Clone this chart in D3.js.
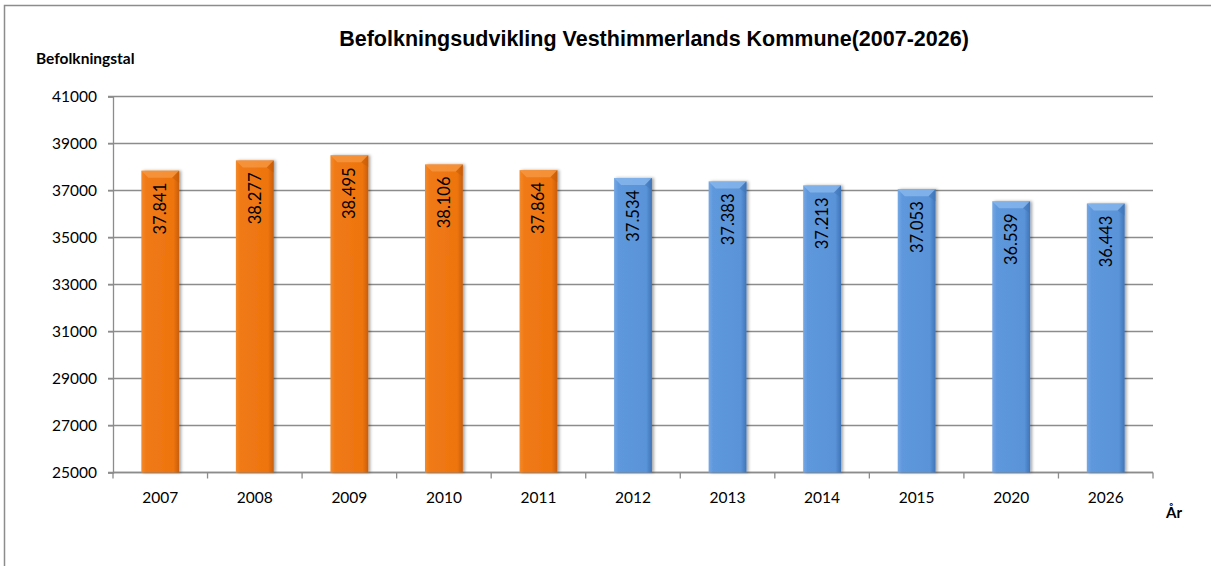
<!DOCTYPE html>
<meta charset="utf-8">
<style>
body { margin: 0; background: #fff; }
text { font-family: Lato, "Open Sans", sans-serif; }
</style>
<body>
<script src="https://cdn.jsdelivr.net/npm/d3@7"></script>
<script>
// data
var years = ["2007", "2008", "2009", "2010", "2011", "2012", "2013", "2014", "2015", "2020", "2026"];
var population = [37841, 38277, 38495, 38106, 37864, 37534, 37383, 37213, 37053, 36539, 36443];
var realized = ["2007", "2008", "2009", "2010", "2011"]; // orange, the rest are forecasts (blue)
var yTicks = [25000, 27000, 29000, 31000, 33000, 35000, 37000, 39000, 41000];

var W = 1211, H = 566;
var margin = {top: 96.5, right: 58, bottom: 93.5, left: 113};
var width = W - margin.left - margin.right,
    height = H - margin.top - margin.bottom;

var svg = d3.select("body").append("svg")
    .attr("width", W)
    .attr("height", H);

// outer chart border
svg.append("rect")
    .attr("x", 4.5).attr("y", 5.5)
    .attr("width", W + 20).attr("height", H + 20)
    .attr("fill", "none")
    .attr("stroke", "#8c8c8c")
    .attr("stroke-width", 1.5);

var defs = svg.append("defs");
function grad(id, stops) {
  var g = defs.append("linearGradient").attr("id", id)
      .attr("x1", "0%").attr("x2", "100%").attr("y1", "0%").attr("y2", "0%");
  stops.forEach(function(s) {
    g.append("stop").attr("offset", s[0]).attr("stop-color", s[1]);
  });
}
grad("gOrange", [["0%", "#f48a2c"], ["12%", "#f07a14"], ["85%", "#ee7410"], ["100%", "#c85e08"]]);
grad("gBlue", [["0%", "#75a8e6"], ["12%", "#5e98dc"], ["85%", "#5a93d8"], ["100%", "#3f74b8"]]);

var shadow = defs.append("filter").attr("id", "shadow")
    .attr("x", "-20%").attr("y", "-10%").attr("width", "150%").attr("height", "120%");
shadow.append("feDropShadow")
    .attr("dx", 2).attr("dy", 0).attr("stdDeviation", 1.5)
    .attr("flood-color", "#000").attr("flood-opacity", 0.35);

var g = svg.append("g")
    .attr("transform", "translate(" + margin.left + "," + margin.top + ")");

var x = d3.scaleBand().domain(years).range([0, width]).paddingInner(0.6).paddingOuter(0.3);
var y = d3.scaleLinear().domain([25000, 41000]).range([height, 0]);

// gridlines
g.append("g").selectAll("line")
    .data(yTicks)
  .enter().append("line")
    .attr("x1", -5).attr("x2", width)
    .attr("y1", function(d) { return y(d); })
    .attr("y2", function(d) { return y(d); })
    .attr("stroke", "#8c8c8c")
    .attr("stroke-width", 1.3);

// y axis
var yAxis = g.append("g")
    .call(d3.axisLeft(y).tickValues(yTicks).tickSize(5).tickPadding(11).tickFormat(d3.format("d")));
yAxis.select(".domain").attr("stroke", "#8c8c8c").attr("stroke-width", 1.3);
yAxis.selectAll(".tick line").attr("stroke", "#8c8c8c");
yAxis.selectAll("text").style("font-size", "15.5px").attr("fill", "#000")
    .style("font-family", "Lato, sans-serif");

// x axis with ticks at band boundaries
var xAxis = g.append("g").attr("transform", "translate(0," + height + ")");
xAxis.append("line").attr("x1", 0).attr("x2", width)
    .attr("stroke", "#8c8c8c").attr("stroke-width", 1.3);
var step = x.step();
xAxis.selectAll(".xt")
    .data(d3.range(years.length + 1))
  .enter().append("line")
    .attr("x1", function(i) { return i * step; })
    .attr("x2", function(i) { return i * step; })
    .attr("y1", 0).attr("y2", 6)
    .attr("stroke", "#8c8c8c").attr("stroke-width", 1.3);
xAxis.selectAll(".xl")
    .data(years)
  .enter().append("text")
    .attr("x", function(d) { return x(d) + x.bandwidth() / 2; })
    .attr("y", 30)
    .attr("text-anchor", "middle")
    .style("font-size", "15.5px")
    .text(function(d) { return d; });

// bars
var bars = g.append("g").selectAll("g.bar")
    .data(years.map(function(d, i) { return {year: d, value: population[i]}; }))
  .enter().append("g").attr("class", "bar");

bars.append("rect")
    .attr("x", function(d) { return x(d.year); })
    .attr("y", function(d) { return y(d.value); })
    .attr("width", x.bandwidth())
    .attr("height", function(d) { return height - y(d.value); })
    .attr("fill", function(d) { return realized.indexOf(d.year) >= 0 ? "url(#gOrange)" : "url(#gBlue)"; })
    .attr("filter", "url(#shadow)");

// top bevel
bars.append("path")
    .attr("d", function(d) {
      var x0 = x(d.year), x1 = x0 + x.bandwidth(), t = y(d.value), b = 7;
      return "M" + x0 + "," + t + "L" + x1 + "," + t + "L" + (x1 - b) + "," + (t + b) +
             "L" + (x0 + b) + "," + (t + b) + "Z";
    })
    .attr("fill", function(d) { return realized.indexOf(d.year) >= 0 ? "#f79a46" : "#8cbaee"; })
    .attr("opacity", 0.75);
bars.append("path")
    .attr("d", function(d) {
      var x0 = x(d.year), x1 = x0 + x.bandwidth(), t = y(d.value), b = 7;
      return "M" + x1 + "," + t + "L" + x1 + "," + (t + 12) + "L" + (x1 - b) + "," + (t + b) + "Z";
    })
    .attr("fill", function(d) { return realized.indexOf(d.year) >= 0 ? "#c65c06" : "#4075b8"; })
    .attr("opacity", 0.5);

// value labels, rotated
var fmt = function(v) { return d3.format(",")(v).replace(/,/g, "."); };
bars.append("text")
    .attr("transform", function(d) {
      return "translate(" + (x(d.year) + x.bandwidth() / 2 + 6) + "," + (y(d.value) + 12) + ") rotate(-90)";
    })
    .attr("text-anchor", "end")
    .style("font-size", "16.5px")
    .attr("fill", "#000")
    .text(function(d) { return fmt(d.value); });

// title and axis titles
svg.append("text")
    .attr("x", 654).attr("y", 46)
    .attr("text-anchor", "middle")
    .style("font-family", "'Liberation Sans', Arial, sans-serif")
    .style("font-size", "21.5px")
    .style("font-weight", "bold")
    .text("Befolkningsudvikling Vesthimmerlands Kommune(2007-2026)");

svg.append("text")
    .attr("x", 36).attr("y", 64)
    .style("font-size", "15.5px")
    .style("font-weight", "bold")
    .text("Befolkningstal");

svg.append("text")
    .attr("x", 1166).attr("y", 518)
    .style("font-size", "15px")
    .style("font-weight", "bold")
    .text("År");
</script>
</body>
